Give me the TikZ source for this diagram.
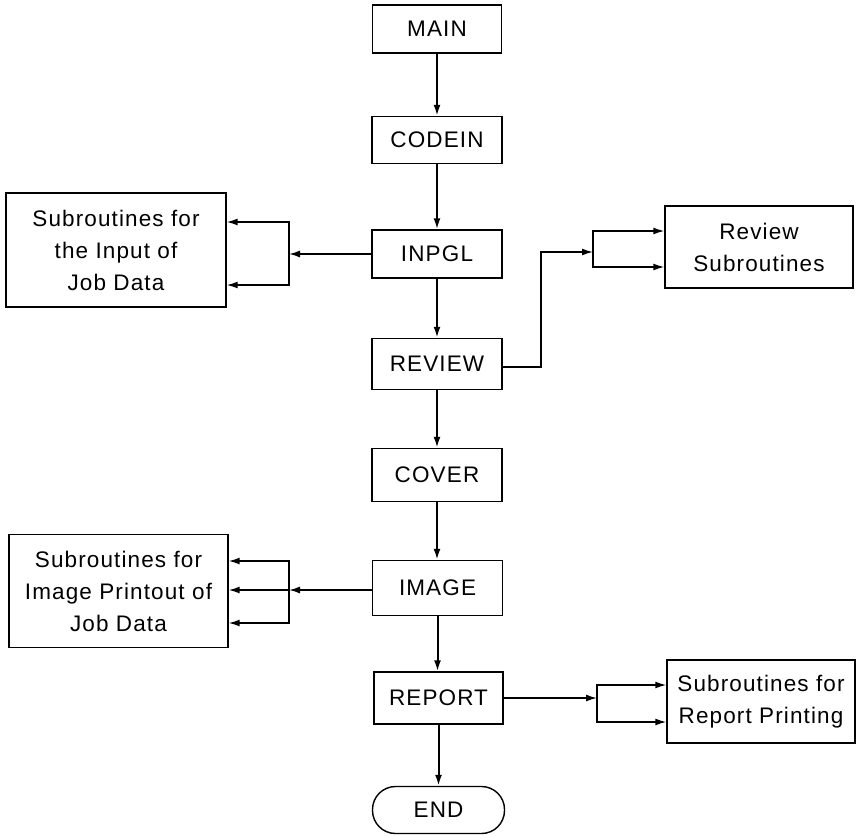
\documentclass[tikz,border=0pt]{standalone}
\usepackage{fontspec}
\setmainfont{Liberation Sans}[LetterSpace=5]
\usetikzlibrary{arrows.meta}
\begin{document}
\begin{tikzpicture}[x=1pt,y=-1pt,
  box/.style={draw,line width=1.4pt,minimum width=130pt,minimum height=50pt,inner sep=0pt,
    font=\fontsize{22.5}{32}\selectfont,align=center},
  subbox/.style={box},
  flow/.style={line width=2pt,-{Latex[length=11pt,width=7pt]}},
  branch/.style={line width=1.5pt,-{Latex[length=11pt,width=7pt]}},
  bbranch/.style={line width=1.5pt,{Latex[length=11pt,width=7pt]}-{Latex[length=11pt,width=7pt]}},
  capsule/.style={box,rounded corners=23pt}]
\useasboundingbox (0,0) rectangle (856,835);
% main column
\node[box,minimum width=129pt,minimum height=48pt] (main) at (437,29) {MAIN};
\node[box,minimum height=47pt] (codein) at (437,140) {CODEIN};
\node[box,minimum height=48pt] (inpgl) at (437,254) {INPGL};
\node[box,minimum height=51pt] (review) at (437,364) {REVIEW};
\node[box,minimum height=53pt] (cover) at (437,475) {COVER};
\node[box,minimum height=55pt] (image) at (437.5,588) {IMAGE};
\node[box,minimum width=129pt,minimum height=52pt] (report) at (438.5,698) {REPORT};
\node[capsule,minimum width=132pt,minimum height=47pt] (end) at (438.5,810) {END};
% side boxes
\node[subbox,minimum width=220pt,minimum height=114pt] (sub1) at (116,250)
  {Subroutines for\\the Input of\\Job Data};
\node[subbox,minimum width=219pt,minimum height=113pt] (sub2) at (118.5,591)
  {Subroutines for\\Image Printout of\\Job Data};
\node[subbox,minimum width=188pt,minimum height=82pt] (revsub) at (759,247)
  {Review\\Subroutines};
\node[subbox,minimum width=188pt,minimum height=83pt] (repsub) at (761,701.5)
  {Subroutines for\\Report Printing};
% main flow
\draw[flow] (main) -- (codein);
\draw[flow] (codein) -- (inpgl);
\draw[flow] (inpgl) -- (review);
\draw[flow] (review) -- (cover);
\draw[flow] (cover) -- (cover|-image.north);
\draw[flow] (image) -- (image|-report.north);
\draw[flow] (report) -- (end);
% INPGL branch
\coordinate (k1) at (289,254);
\coordinate (k1t) at (289,222);
\coordinate (k1b) at (289,285);
\draw[branch] (inpgl.west) -- (k1);
\draw[bbranch] (sub1.east|-k1t) -- (k1t) -- (k1b) -- (sub1.east|-k1b);
% IMAGE branch
\coordinate (k2) at (289,590);
\coordinate (k2t) at (289,561);
\coordinate (k2b) at (289,623);
\draw[branch] (image.west|-k2) -- (k2);
\draw[bbranch] (sub2.east|-k2t) -- (k2t) -- (k2b) -- (sub2.east|-k2b);
\draw[branch] (k2) -- (sub2.east|-k2);
% REVIEW branch
\coordinate (k3v) at (541,367);
\coordinate (k3) at (593,252);
\coordinate (k3t) at (593,231);
\coordinate (k3b) at (593,267);
\draw[branch] (review.east|-k3v) -- (k3v) |- (k3);
\draw[bbranch] (revsub.west|-k3t) -- (k3t) -- (k3b) -- (revsub.west|-k3b);
% REPORT branch
\coordinate (k4) at (597,698);
\coordinate (k4t) at (597,685);
\coordinate (k4b) at (597,722);
\draw[branch] (report.east) -- (k4);
\draw[bbranch] (repsub.west|-k4t) -- (k4t) -- (k4b) -- (repsub.west|-k4b);
\end{tikzpicture}
\end{document}
